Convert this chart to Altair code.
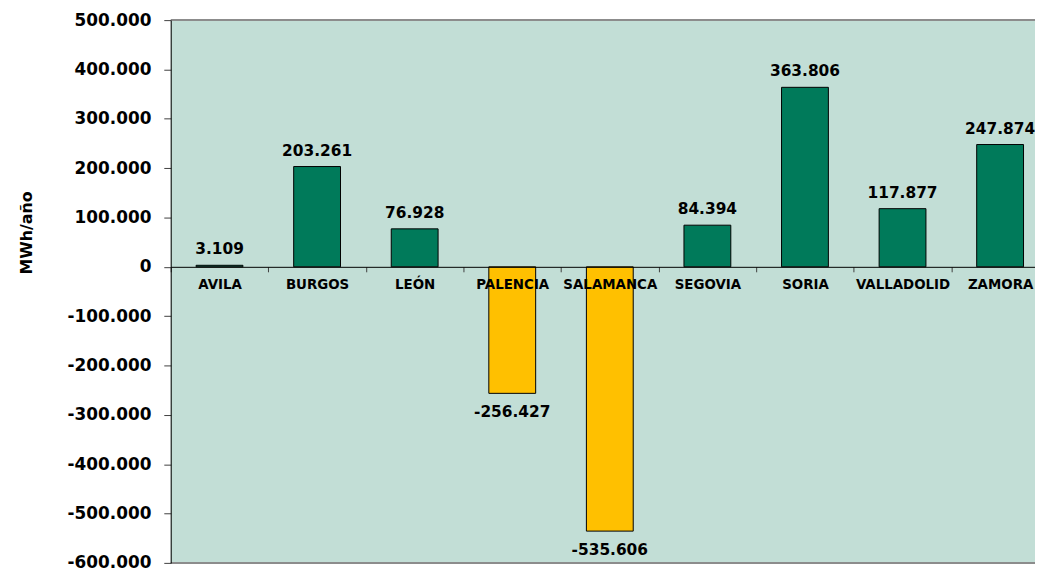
import altair as alt
import pandas as pd

provincias = ["AVILA", "BURGOS", "LEÓN", "PALENCIA", "SALAMANCA", "SEGOVIA", "SORIA", "VALLADOLID", "ZAMORA"]
valores = [3109, 203261, 76928, -256427, -535606, 84394, 363806, 117877, 247874]
y_ticks = [500000, 400000, 300000, 200000, 100000, 0, -100000, -200000, -300000, -400000, -500000, -600000]

df = pd.DataFrame({"provincia": provincias, "valor": valores})
df["signo"] = ["pos" if v >= 0 else "neg" for v in valores]

W = 871
H = 547
FULL = 885
STEP = FULL / len(provincias)
FONT = "DejaVu Sans"

xs = alt.Scale(domain=provincias, range=[0, FULL], paddingInner=0.52, paddingOuter=0.26)
ys = alt.Scale(domain=[-600000, 500000], nice=False, zero=False)

zero_from_bottom = H * 600000 / 1100000

bg = alt.Chart(pd.DataFrame({"a": [0]})).mark_rect(color="#C2DED6").encode(
    x=alt.value(0), x2=alt.value(W), y=alt.value(0), y2=alt.value(H)
)

base = alt.Chart(df)

bars = base.mark_bar(stroke="black", strokeWidth=1).encode(
    x=alt.X("provincia:N", scale=xs, sort=provincias,
            axis=alt.Axis(title=None, orient="bottom", offset=-zero_from_bottom, labelAngle=0,
                          domainColor="black", domainWidth=1, tickColor="#404040",
                          tickSize=5, tickOffset=-STEP / 2, labelOffset=STEP / 2, labelPadding=6,
                          labelFont=FONT, labelFontWeight="bold", labelFontSize=13.5,
                          labelColor="black", labelBaseline="top", zindex=1)),
    y=alt.Y("valor:Q", scale=ys,
            axis=alt.Axis(title="MWh/año", values=y_ticks, format=",d", grid=False,
                          domainColor="black", domainWidth=1, tickColor="#404040",
                          tickSize=7, labelPadding=13,
                          labelFont=FONT, labelFontWeight="bold", labelFontSize=17,
                          labelColor="black",
                          titleFont=FONT, titleFontWeight="bold", titleFontSize=16,
                          titleColor="black", titleAngle=-90, titleX=-140, titleY=214,
                          titleAlign="center", titleBaseline="alphabetic", zindex=1)),
    color=alt.Color("signo:N", scale=alt.Scale(domain=["pos", "neg"], range=["#007A5A", "#FFC000"]), legend=None),
)

lab_pos = base.transform_filter("datum.valor >= 0").mark_text(
    baseline="bottom", dy=-8, font=FONT, fontWeight="bold", fontSize=15.5, color="black"
).encode(
    x=alt.X("provincia:N", scale=xs, sort=provincias),
    y=alt.Y("valor:Q", scale=ys),
    text=alt.Text("valor:Q", format=",d"),
)

lab_neg = base.transform_filter("datum.valor < 0").mark_text(
    baseline="top", dy=12, font=FONT, fontWeight="bold", fontSize=15.5, color="black"
).encode(
    x=alt.X("provincia:N", scale=xs, sort=provincias),
    y=alt.Y("valor:Q", scale=ys),
    text=alt.Text("valor:Q", format=",d"),
)

frame = alt.Chart(pd.DataFrame({"v": [500000, -600000]})).mark_rule(color="#8c8c8c", strokeWidth=2).encode(
    y=alt.Y("v:Q", scale=ys)
)

chart = alt.layer(bg, bars, frame, lab_pos, lab_neg).properties(
    width=W, height=H,
    autosize=alt.AutoSizeParams(type="none"),
    padding={"left": 164, "top": 10, "right": 0, "bottom": 10},
).configure_view(
    strokeWidth=0
).configure(
    locale=alt.Locale(number=alt.NumberLocale(decimal=",", thousands=".", grouping=[3], currency=["", " €"], minus="-"))
)

chart.save("out.html", embed_options={"renderer": "svg", "actions": False})
